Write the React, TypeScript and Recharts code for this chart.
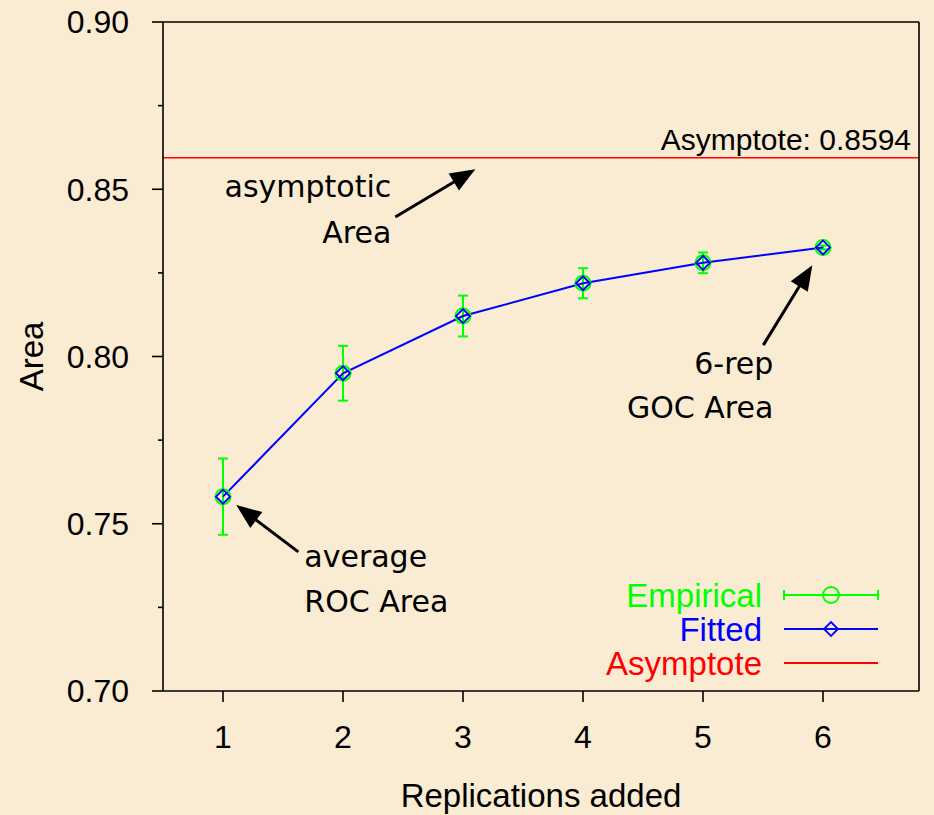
import React from 'react';
import {
  ComposedChart,
  Line,
  Scatter,
  ErrorBar,
  XAxis,
  YAxis,
  ReferenceLine,
  ReferenceDot,
  Legend,
  Label,
} from 'recharts';

// Area vs. number of replications added
const REPLICATIONS = [1, 2, 3, 4, 5, 6];
const EMPIRICAL_AREA = [0.7581, 0.795, 0.8121, 0.8219, 0.828, 0.8326];
const EMPIRICAL_ERR = [0.0114, 0.0082, 0.0061, 0.0045, 0.0031, 0.0006];
const FITTED_AREA = [0.7581, 0.795, 0.8121, 0.8219, 0.828, 0.8326];
const ASYMPTOTE = 0.8594;

const X_TICKS = [1, 2, 3, 4, 5, 6];
const Y_TICKS = [0.7, 0.725, 0.75, 0.775, 0.8, 0.825, 0.85, 0.875, 0.9];
const LEGEND_LABELS = ['Empirical', 'Fitted', 'Asymptote'];

const NOTES = [
  { lines: ['asymptotic', 'Area'], x: 2.4025, y: 0.8477, anchor: 'end', lineGap: 46 },
  { lines: ['6-rep', 'GOC Area'], x: 5.586, y: 0.7948, anchor: 'end', lineGap: 44 },
  { lines: ['average', 'ROC Area'], x: 1.6775, y: 0.7371, anchor: 'start', lineGap: 45 },
];

const ARROWS = [
  { from: { x: 2.436, y: 0.8417 }, to: { x: 3.1025, y: 0.856 } },
  { from: { x: 5.5025, y: 0.8034 }, to: { x: 5.911, y: 0.8273 } },
  { from: { x: 1.6275, y: 0.7416 }, to: { x: 1.111, y: 0.7556 } },
];

const data = REPLICATIONS.map((rep, i) => ({
  rep,
  empirical: EMPIRICAL_AREA[i],
  err: EMPIRICAL_ERR[i],
  fitted: FITTED_AREA[i],
}));

const SANS = '"Liberation Sans", Arial, sans-serif';
const NOTE_FONT = '"DejaVu Sans", sans-serif';
const GREEN = '#00ff00';
const BLUE = '#0000ff';
const RED = '#ff0000';
const AXIS_W = 1.6;
const TICK_LEN = 11;
const TICK_MARGIN = 23;

const isMajor = (v: number) => Math.round(v * 1000) % 50 === 0;

// left axis: long ticks + labels at 0.05 steps, short ticks in between
const LeftTick = (props: any) => {
  const { x, y, payload } = props;
  const v = payload.value as number;
  const axisX = x + TICK_LEN + TICK_MARGIN;
  const len = isMajor(v) ? TICK_LEN : 5;
  return (
    <g>
      <line x1={axisX - len} x2={axisX} y1={y} y2={y} stroke="#000" strokeWidth={AXIS_W} />
      {isMajor(v) && (
        <text x={x} y={y} dy="0.355em" textAnchor="end" fontSize={32} fontFamily={SANS} fill="#000">
          {v.toFixed(2)}
        </text>
      )}
    </g>
  );
};

const RightTick = (props: any) => {
  const { x, y, payload } = props;
  const v = payload.value as number;
  const axisX = x - TICK_LEN;
  const len = isMajor(v) ? TICK_LEN : 5;
  return <line x1={axisX} x2={axisX + len} y1={y} y2={y} stroke="#000" strokeWidth={AXIS_W} />;
};

const Diamond = ({ cx, cy }: any) => (
  <path
    d={`M${cx - 7},${cy} L${cx},${cy - 7} L${cx + 7},${cy} L${cx},${cy + 7} Z`}
    fill="none"
    stroke={BLUE}
    strokeWidth={1.8}
  />
);

const Arrow = (props: any) => {
  const { x1, y1, x2, y2 } = props;
  const dx = x2 - x1;
  const dy = y2 - y1;
  const len = Math.hypot(dx, dy);
  const ux = dx / len;
  const uy = dy / len;
  const head = 25;
  const half = 10;
  const bx = x2 - ux * head;
  const by = y2 - uy * head;
  return (
    <g>
      <line x1={x1} y1={y1} x2={bx + ux * 2} y2={by + uy * 2} stroke="#000" strokeWidth={3} />
      <polygon
        points={`${x2},${y2} ${bx - uy * half},${by + ux * half} ${bx + uy * half},${by - ux * half}`}
        fill="#000"
      />
    </g>
  );
};

const LegendBox = () => {
  const rows = [35, 69, 103];
  const colors = [GREEN, BLUE, RED];
  return (
    <svg width={334} height={120} style={{ overflow: 'visible' }}>
      {LEGEND_LABELS.map((name, i) => (
        <text
          key={name}
          x={162}
          y={rows[i]}
          dy="0.35em"
          textAnchor="end"
          fontSize={33}
          fontFamily={SANS}
          fill={colors[i]}
        >
          {name}
        </text>
      ))}
      <g stroke={GREEN} strokeWidth={2} fill="none">
        <line x1={184} x2={278} y1={rows[0]} y2={rows[0]} />
        <line x1={184} x2={184} y1={rows[0] - 5} y2={rows[0] + 5} />
        <line x1={278} x2={278} y1={rows[0] - 5} y2={rows[0] + 5} />
        <circle cx={231} cy={rows[0]} r={8} />
      </g>
      <line x1={184} x2={278} y1={rows[1]} y2={rows[1]} stroke={BLUE} strokeWidth={2} />
      <Diamond cx={231} cy={rows[1]} />
      <line x1={184} x2={278} y1={rows[2]} y2={rows[2]} stroke={RED} strokeWidth={2} />
    </svg>
  );
};

export default function App() {
  return (
    <div
      style={{
        position: 'absolute',
        left: 0,
        top: 0,
        width: 934,
        height: 815,
        background: '#f9ecd2',
        fontFamily: SANS,
      }}
    >
      <ComposedChart width={934} height={815} data={data} margin={{ top: 0, right: 0, bottom: 0, left: 0 }}>
        <XAxis
          dataKey="rep"
          type="number"
          domain={[0.5, 6.8]}
          ticks={X_TICKS}
          interval={0}
          height={124}
          tickSize={TICK_LEN}
          tickMargin={TICK_MARGIN}
          stroke="#000"
          strokeWidth={AXIS_W}
          tick={{ fontSize: 32, fill: '#000', fontFamily: SANS }}
        >
          <Label
            content={({ viewBox }: any) => (
              <text
                x={viewBox.x + viewBox.width / 2}
                y={viewBox.y + 116}
                textAnchor="middle"
                fontSize={33}
                fontFamily={SANS}
                fill="#000"
              >
                Replications added
              </text>
            )}
          />
        </XAxis>
        <XAxis
          xAxisId="top"
          orientation="top"
          dataKey="rep"
          type="number"
          domain={[0.5, 6.8]}
          ticks={X_TICKS}
          interval={0}
          height={22}
          tickSize={TICK_LEN}
          tick={false}
          stroke="#000"
          strokeWidth={AXIS_W}
        />
        <YAxis
          type="number"
          domain={[0.7, 0.9]}
          ticks={Y_TICKS}
          interval={0}
          width={163}
          tickSize={TICK_LEN}
          tickMargin={TICK_MARGIN}
          tickLine={false}
          tick={LeftTick}
          stroke="#000"
          strokeWidth={AXIS_W}
        >
          <Label
            content={({ viewBox }: any) => {
              const cx = viewBox.x + 43;
              const cy = viewBox.y + viewBox.height / 2;
              return (
                <text
                  x={cx}
                  y={cy}
                  transform={`rotate(-90 ${cx} ${cy})`}
                  textAnchor="middle"
                  fontSize={33}
                  fontFamily={SANS}
                  fill="#000"
                >
                  Area
                </text>
              );
            }}
          />
        </YAxis>
        <YAxis
          yAxisId="right"
          orientation="right"
          type="number"
          domain={[0.7, 0.9]}
          ticks={Y_TICKS}
          interval={0}
          width={15}
          tickSize={TICK_LEN}
          tickMargin={0}
          tickLine={false}
          tick={RightTick}
          stroke="#000"
          strokeWidth={AXIS_W}
        />

        <ReferenceLine
          y={ASYMPTOTE}
          stroke={RED}
          strokeWidth={1.6}
          label={{
            value: `Asymptote: ${ASYMPTOTE}`,
            position: 'insideBottomRight',
            offset: 8,
            fontSize: 30,
            fontFamily: SANS,
            fill: '#000',
          }}
        />

        <Scatter
          dataKey="empirical"
          isAnimationActive={false}
          shape={(p: any) => <circle cx={p.cx} cy={p.cy} r={7.5} fill="none" stroke={GREEN} strokeWidth={2} />}
        >
          <ErrorBar dataKey="err" direction="y" width={5} stroke={GREEN} strokeWidth={2} />
        </Scatter>
        <Line
          dataKey="fitted"
          type="linear"
          stroke={BLUE}
          strokeWidth={2}
          isAnimationActive={false}
          dot={(p: any) => <Diamond key={`dm-${p.index}`} cx={p.cx} cy={p.cy} />}
          activeDot={false}
        />

        {ARROWS.map((a, i) => (
          <ReferenceLine key={`arrow-${i}`} segment={[a.from, a.to]} shape={Arrow} />
        ))}
        {NOTES.map((n, i) => (
          <ReferenceDot
            key={`note-${i}`}
            x={n.x}
            y={n.y}
            shape={(p: any) => (
              <text
                x={p.cx}
                y={p.cy}
                textAnchor={n.anchor as any}
                fontSize={30}
                fontFamily={NOTE_FONT}
                fill="#000"
              >
                {n.lines.map((line, j) => (
                  <tspan key={line} x={p.cx} dy={j === 0 ? 0 : n.lineGap}>
                    {line}
                  </tspan>
                ))}
              </text>
            )}
          />
        ))}

        <Legend
          layout="horizontal"
          verticalAlign="middle"
          align="center"
          content={() => <LegendBox />}
          wrapperStyle={{ position: 'absolute', left: 600, top: 560, width: 334, height: 120 }}
        />
      </ComposedChart>
    </div>
  );
}
